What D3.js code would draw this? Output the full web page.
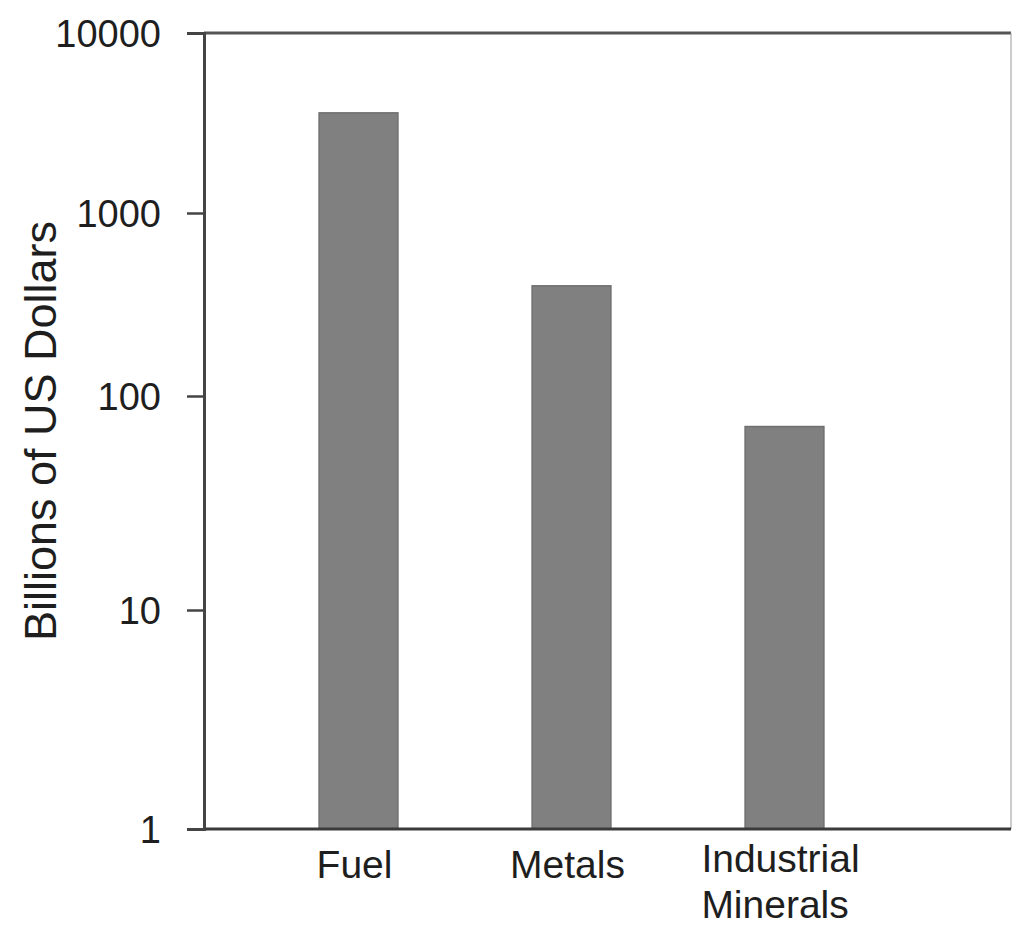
<!DOCTYPE html>
<html>
<head>
<meta charset="utf-8">
<script src="https://cdn.jsdelivr.net/npm/d3@7"></script>
<style>
  html, body { margin: 0; padding: 0; background: #fff; }
  svg { display: block; }
  text { font-family: "Liberation Sans", Arial, sans-serif; fill: #1e1e1e; }
</style>
</head>
<body>
<div id="chart"></div>
<script>
// ---- data ----
const categories = ["Fuel", "Metals", "Industrial Minerals"];
const categoryLines = [["Fuel"], ["Metals"], ["Industrial", "Minerals"]];
const values = [3600, 400, 72];
const tickValues = [1, 10, 100, 1000, 10000];
const tickLabels = ["1", "10", "100", "1000", "10000"];
const yTitle = "Billions of US Dollars";

// ---- layout ----
const W = 1013, H = 927;
const plot = { left: 204, right: 1011, top: 33, bottom: 829 };
// the original axis spacing is not perfectly uniform; use a piecewise log scale
const yPix = [829, 610, 396, 213, 33];

const svg = d3.select("#chart").append("svg").attr("width", W).attr("height", H);

const y = d3.scaleLog().domain(tickValues).range(yPix);

const x = d3.scaleBand()
  .domain(categories)
  .range([252, 891])
  .paddingInner(0.63)
  .paddingOuter(0.315);

// bars
svg.append("g").selectAll("rect")
  .data(categories)
  .join("rect")
  .attr("x", d => x(d))
  .attr("width", x.bandwidth())
  .attr("y", (d, i) => y(values[i]))
  .attr("height", (d, i) => y(1) - y(values[i]))
  .attr("fill", "#808080")
  .attr("stroke", "#6f6f6f")
  .attr("stroke-width", 1.5);

// frame
svg.append("line").attr("x1", plot.left).attr("x2", plot.right).attr("y1", plot.top).attr("y2", plot.top)
  .attr("stroke", "#555").attr("stroke-width", 3);
svg.append("line").attr("x1", plot.right).attr("x2", plot.right).attr("y1", plot.top).attr("y2", plot.bottom)
  .attr("stroke", "#999").attr("stroke-width", 1);
svg.append("line").attr("x1", plot.left).attr("x2", plot.right).attr("y1", plot.bottom).attr("y2", plot.bottom)
  .attr("stroke", "#3a3a3a").attr("stroke-width", 3);

// y axis
const yAxis = d3.axisLeft(y)
  .tickValues(tickValues)
  .tickFormat((d, i) => tickLabels[i])
  .tickSize(17)
  .tickPadding(26);
const ga = svg.append("g").attr("transform", `translate(${plot.left},0)`).call(yAxis);
ga.select(".domain").attr("stroke", "#444").attr("stroke-width", 3);
ga.selectAll(".tick line").attr("stroke", "#444").attr("stroke-width", 2.5);
ga.selectAll(".tick text")
  .style("font-family", '"Liberation Sans", Arial, sans-serif')
  .attr("font-size", 38).attr("fill", "#1e1e1e").attr("dy", "0.36em");

// x labels
const xl = svg.append("g");
categories.forEach((c, i) => {
  const lines = categoryLines[i];
  const cx = x(c) + x.bandwidth() / 2;
  const t = xl.append("text").attr("font-size", 39);
  const baseY = lines.length > 1 ? 872 : 878;
  lines.forEach((ln, j) => {
    t.append("tspan").attr("y", baseY + j * 46).text(ln);
  });
  // left-align the lines, centred as a block on the bar
  const tsp = t.selectAll("tspan");
  let maxW = 0;
  tsp.each(function() { maxW = Math.max(maxW, this.getComputedTextLength()); });
  tsp.attr("x", cx - maxW / 2 - 4);
});

// y title
svg.append("text")
  .attr("transform", `translate(56, ${(plot.top + plot.bottom) / 2}) rotate(-90)`)
  .attr("text-anchor", "middle")
  .attr("font-size", 45)
  .text(yTitle);
</script>
</body>
</html>
